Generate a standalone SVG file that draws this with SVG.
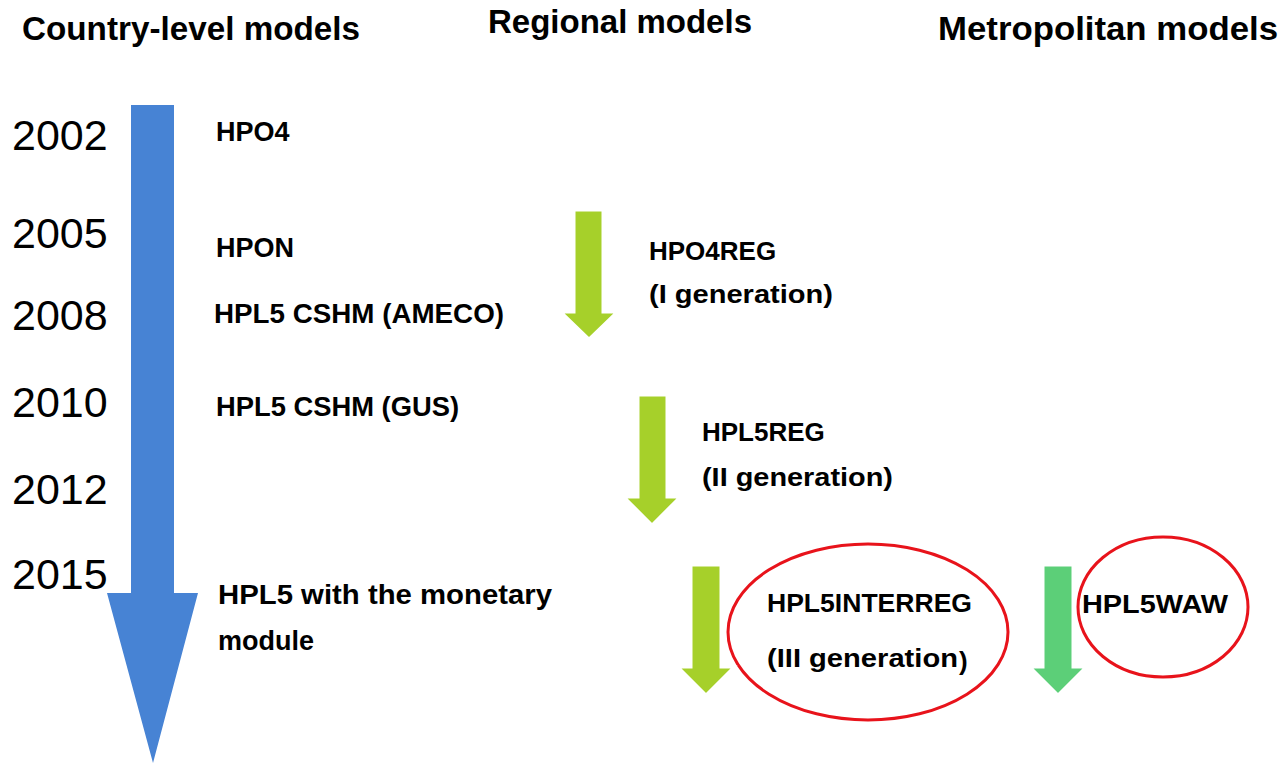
<svg xmlns="http://www.w3.org/2000/svg" width="1285" height="764" viewBox="0 0 1285 764">
<style>
.hdr{font-family:"Liberation Sans",Arial,sans-serif;font-weight:bold;font-size:33px;fill:#000}
.yr{font-family:"Liberation Sans",Arial,sans-serif;font-size:43px;fill:#000}
.lbl{font-family:"Liberation Sans",Arial,sans-serif;font-weight:bold;font-size:27px;fill:#000}
.rl{font-family:"Liberation Sans",Arial,sans-serif;font-weight:bold;font-size:26px;fill:#000}
.ring{fill:none;stroke:#E8131B;stroke-width:3}
.lime{fill:#A6D02A;stroke:#fff;stroke-width:3}
.emer{fill:#5CCF78;stroke:#fff;stroke-width:3}
</style>
<rect width="1285" height="764" fill="#fff"/>
<g id="headers">
<text class="hdr" x="22" y="40" textLength="338" lengthAdjust="spacingAndGlyphs">Country-level models</text>
<text class="hdr" x="488" y="33" textLength="264" lengthAdjust="spacingAndGlyphs">Regional models</text>
<text class="hdr" x="938" y="40" textLength="340" lengthAdjust="spacingAndGlyphs">Metropolitan models</text>
</g>
<g id="years">
<text class="yr" x="12" y="150">2002</text>
<text class="yr" x="12" y="248">2005</text>
<text class="yr" x="12" y="330">2008</text>
<text class="yr" x="12" y="417">2010</text>
<text class="yr" x="12" y="504">2012</text>
<text class="yr" x="12" y="589">2015</text>
</g>
<g id="ellipses">
<ellipse class="ring" cx="868" cy="632" rx="140" ry="88"/>
<ellipse class="ring" cx="1163" cy="607" rx="85" ry="70"/>
</g>
<g id="connectors">
<polygon id="country-arrow" fill="#4783D4" points="131,105 174,105 174,593 198,593 153,763 107,593 131,593"/>
<polygon id="reg-arrow-1" class="lime" points="574,210 603,210 603,312 617,312 589,339 561,312 574,312"/>
<polygon id="reg-arrow-2" class="lime" points="638,395 667,395 667,497 680,497 652,525 624,497 638,497"/>
<polygon id="reg-arrow-3" class="lime" points="691,565 721,565 721,667 734,667 706,695 678,667 691,667"/>
<polygon id="metro-arrow" class="emer" points="1043,565 1073,565 1073,667 1086,667 1058,695 1030,667 1043,667"/>
</g>
<g id="node-hpo4"><text class="lbl" x="216" y="141">HPO4</text></g>
<g id="node-hpon"><text class="lbl" x="216" y="257">HPON</text></g>
<g id="node-hpl5-ameco"><text class="lbl" x="214" y="323" textLength="290" lengthAdjust="spacingAndGlyphs">HPL5 CSHM (AMECO)</text></g>
<g id="node-hpl5-gus"><text class="lbl" x="216" y="416" textLength="243" lengthAdjust="spacingAndGlyphs">HPL5 CSHM (GUS)</text></g>
<g id="node-hpl5-monetary">
<text class="lbl" x="218" y="604" textLength="334" lengthAdjust="spacingAndGlyphs">HPL5 with the monetary</text>
<text class="lbl" x="218" y="650">module</text>
</g>
<g id="node-hpo4reg">
<text class="rl" x="649" y="260">HPO4REG</text>
<text class="rl" x="649" y="303" textLength="184" lengthAdjust="spacingAndGlyphs">(I generation)</text>
</g>
<g id="node-hpl5reg">
<text class="rl" x="702" y="441">HPL5REG</text>
<text class="rl" x="702" y="486" textLength="191" lengthAdjust="spacingAndGlyphs">(II generation)</text>
</g>
<g id="node-hpl5interreg">
<text class="rl" x="767" y="612" textLength="205" lengthAdjust="spacingAndGlyphs">HPL5INTERREG</text>
<text class="rl" x="767" y="667" textLength="191" lengthAdjust="spacingAndGlyphs">(III generation</text>
<text class="rl" x="959" y="670" font-size="34">)</text>
</g>
<g id="node-hpl5waw"><text class="rl" x="1082" y="613" textLength="146" lengthAdjust="spacingAndGlyphs">HPL5WAW</text></g>
</svg>
